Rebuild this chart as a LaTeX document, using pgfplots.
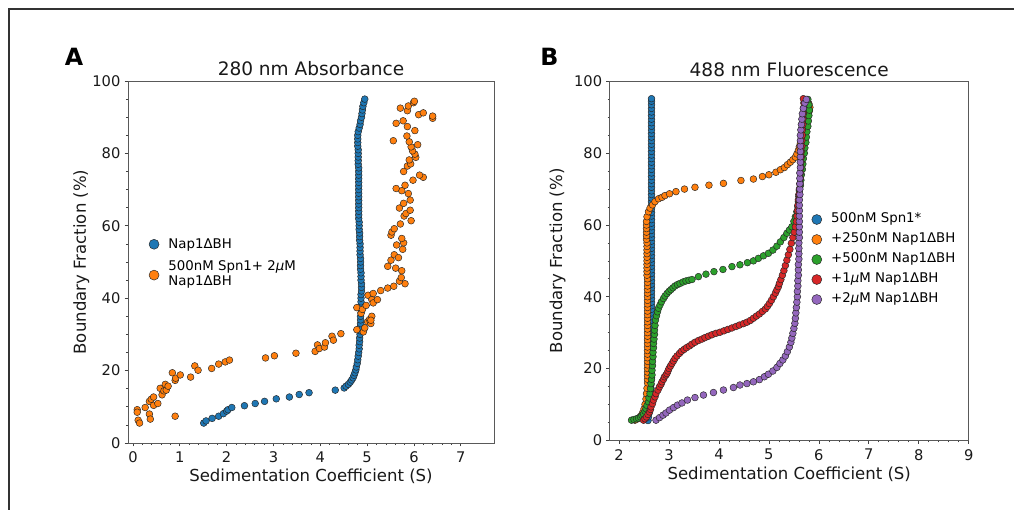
\documentclass[border=0pt]{standalone}
\usepackage{fontspec}
\setmainfont{DejaVu Sans}
\usepackage{pgfplots}
\pgfplotsset{compat=1.18}

\definecolor{tabblue}{HTML}{1F77B4}
\definecolor{taborange}{HTML}{FF7F0E}
\definecolor{tabgreen}{HTML}{2CA02C}
\definecolor{tabred}{HTML}{D62728}
\definecolor{tabpurple}{HTML}{9467BD}

% 1 px of the reference = 0.75pt
\pgfplotsset{
  sed/.style={
    scale only axis,
    axis line style={black!65, line width=0.6pt},
    tick align=outside, xtick pos=bottom, ytick pos=left,
    major tick length=2.6pt, minor tick length=1.6pt,
    every tick/.style={black!75, line width=0.5pt},
    minor x tick num=4, minor y tick num=3,
    ymin=0, ymax=100, ytick={0,20,...,100},
    /pgf/number format/assume math mode=true,
    tick label style={font=\fontsize{11}{13}\selectfont, text=black!90},
    xticklabel style={inner sep=0pt, anchor=north, yshift=-3.9pt},
    yticklabel style={inner sep=0pt, anchor=east, xshift=-2.9pt},
    label style={font=\fontsize{12.4}{15}\selectfont, text=black!90},
    every axis title/.style={font=\fontsize{13.9}{16}\selectfont, text=black!90,
      at={(0.5,1)}, anchor=base, yshift=3.75pt},
    xlabel={Sedimentation Coefficient (S)},
    ylabel={Boundary Fraction (\%)},
    legend cell align=left,
  },
  pt/.style={only marks, mark=*, mark size=2.55pt,
    mark options={draw=black!85, line width=0.35pt, fill=#1},
    legend image code/.code={\draw[##1,mark size=3.75pt] plot coordinates {(0pt,0pt)}; \path (10.6pt,0pt);}},
  lowimg/.style={legend image code/.code={\path (0pt,-8pt) (0pt,8pt);
    \draw[##1,mark size=3.75pt] plot coordinates {(0pt,-4pt)}; \path (10.6pt,0pt);}},
}

\begin{document}
\begin{tikzpicture}
\path[use as bounding box] (0,0) rectangle (760.5pt,382.5pt);
\draw[black!80, line width=1pt] (6.75pt,0pt) -- (6.75pt,375.75pt) -- (760.5pt,375.75pt);
\node[font=\bfseries\fontsize{17.8}{20}\selectfont] at (55.5pt,339.75pt) {A};
\node[font=\bfseries\fontsize{17.8}{20}\selectfont] at (412.1pt,340.1pt) {B};

% ---------------- A: 280 nm absorbance
\begin{axis}[sed, at={(96pt,50.25pt)}, anchor=south west,
  width=274.5pt, height=271.5pt,
  xmin=-0.107, xmax=7.71, xtick={0,...,7},
  title={280 nm Absorbance},
  xlabel style={at={(0.5,0)}, anchor=base, yshift=-29pt},
  ylabel style={at={(axis description cs:-0.1276,0.5)}, anchor=center},
  legend style={draw=none, fill=none, inner sep=0pt, row sep=6.25pt, column sep=0pt,
    font=\fontsize{10}{11.25}\selectfont, nodes={inner sep=0pt},
    at={(axis description cs:0.0568,0.567)}, anchor=north west}]
\addplot[pt=tabblue] coordinates {
(1.51,5.5)(1.56,6.1)(1.69,6.8)(1.83,7.4)(1.93,8.1)(2.00,8.8)(2.03,9.2)(2.11,9.8)
(2.38,10.3)(2.61,10.9)(2.81,11.5)(3.06,12.2)(3.34,12.7)(3.55,13.4)(3.76,13.9)
(4.32,14.6)(4.51,15.2)(4.55,15.7)(4.60,16.2)(4.64,16.8)(4.67,17.4)(4.70,18.0)
(4.72,18.7)(4.74,19.4)(4.76,20.2)(4.77,21.0)(4.79,22.0)(4.80,23.0)(4.81,24.0)
(4.82,25)(4.83,26)(4.83,27)(4.84,28)(4.84,29)(4.85,30)(4.85,31)(4.85,32)(4.86,33)
(4.86,34)(4.86,35)(4.87,36)(4.87,37)(4.87,38)(4.87,39)(4.87,40)(4.87,41)(4.88,42)
(4.88,43)(4.88,44)(4.87,45)(4.87,46)(4.87,47)(4.86,48)(4.86,49)(4.86,50)(4.86,51)
(4.85,52)(4.85,53)(4.85,54)(4.85,55)(4.84,56)(4.84,57)(4.84,58)(4.83,59)(4.83,60)
(4.83,61)(4.82,62)(4.82,63)(4.82,64)(4.82,65)(4.82,66)(4.82,67)(4.82,68)(4.82,69)
(4.82,70)(4.82,71)(4.82,72)(4.82,73)(4.82,74)(4.82,75)(4.82,76)(4.81,77)(4.81,78)
(4.81,79)(4.81,80)(4.81,81)(4.80,82)(4.80,83)(4.80,84)(4.80,85)(4.81,86)(4.83,87)
(4.85,88)(4.86,89)(4.88,90)(4.89,91)(4.90,92)(4.91,93)(4.93,94)(4.95,95)};
\addlegendentry{\strut Nap1ΔBH}
\addplot[pt=taborange, lowimg] coordinates {
(0.09,9.2)(0.09,8.5)(0.11,6.3)(0.14,5.5)(0.26,9.8)(0.35,8.0)(0.37,6.6)(0.35,11.5)
(0.39,12.1)(0.44,12.7)(0.44,10.4)(0.53,10.9)(0.58,15.1)(0.62,13.3)(0.66,14.4)
(0.69,16.2)(0.71,14.6)(0.75,15.7)(0.84,19.4)(0.90,17.3)(0.90,7.4)(0.91,17.9)
(1.01,18.8)(1.23,18.2)(1.32,21.3)(1.39,20.1)(1.68,20.6)(1.83,21.8)(1.97,22.4)
(2.06,22.9)(2.83,23.5)(3.02,24.1)(3.48,24.8)(3.89,25.3)(3.94,27.1)(3.98,26.1)
(4.09,26.5)(4.11,27.7)(4.25,29.5)(4.28,28.4)(4.44,30.2)(4.78,31.3)(4.78,37.4)
(4.87,35.8)(4.90,36.9)(4.92,30.7)(4.95,31.8)(4.98,38.0)(5.01,33.5)(5.05,34.1)
(5.08,33.0)(5.10,35.0)(5.08,33.9)(5.02,40.8)(5.10,39.6)(5.13,41.3)(5.13,38.7)
(5.22,39.6)(5.29,42.1)(5.44,42.8)(5.57,43.3)(5.81,44.0)(5.69,44.7)(5.73,45.7)
(5.74,47.6)(5.61,48.3)(5.44,48.8)(5.51,50.5)(5.58,52.0)(5.67,51.2)(5.63,54.7)
(5.76,53.5)(5.78,55.3)(5.74,56.5)(5.51,57.4)(5.53,58.3)(5.58,59.2)(5.71,60.5)
(5.94,61.4)(5.79,62.7)(5.83,63.4)(5.92,64.3)(5.69,64.9)(5.78,66.2)(5.92,67.1)
(5.88,68.9)(5.74,69.7)(5.62,70.3)(5.81,71.2)(5.98,72.6)(6.20,73.4)(6.12,74.0)
(5.78,75.0)(5.86,76.5)(5.93,77.1)(5.90,78.2)(6.04,78.9)(6.02,79.8)(5.97,80.7)
(5.94,81.8)(6.08,82.4)(5.90,83.2)(5.56,83.5)(5.85,84.8)(6.02,86.3)(5.86,87.4)
(5.62,88.3)(5.77,89.0)(6.40,89.7)(6.40,90.3)(6.10,90.7)(6.20,91.2)(5.86,91.8)
(5.71,92.5)(5.88,93.1)(5.99,94.0)(6.01,94.4)};
\addlegendentry{\begin{tabular}{@{}l@{}}500nM Spn1+ 2{\itshape μ}M\\Nap1ΔBH\end{tabular}}
\end{axis}

% ---------------- B: 488 nm fluorescence
\begin{axis}[sed, at={(457.3pt,52.3pt)}, anchor=south west,
  width=269.25pt, height=269.1pt,
  xmin=1.814, xmax=9, xtick={2,...,9},
  title={488 nm Fluorescence},
  xlabel style={at={(0.5,0)}, anchor=base, yshift=-29.8pt},
  ylabel style={at={(axis description cs:-0.1454,0.5)}, anchor=center},
  legend style={draw=none, fill=none, inner sep=0pt, row sep=3.75pt, column sep=0pt,
    font=\fontsize{10}{11.25}\selectfont,
    nodes={inner sep=0pt, text height=7.875pt, text depth=3.375pt},
    at={(axis description cs:0.5621,0.6369)}, anchor=north west}]
\addplot[pt=tabblue] coordinates {
(2.58,5.5)(2.59,6.5)(2.60,7.5)(2.61,8.5)(2.61,9.5)(2.62,10.5)(2.62,11.5)(2.63,12.5)
(2.63,13.5)(2.64,14.5)(2.64,15.5)(2.64,16.5)(2.65,17.5)(2.65,18.5)(2.65,19.5)
(2.65,20.5)(2.65,21.5)(2.65,22.5)(2.65,23.5)(2.65,24.5)(2.65,25.5)(2.65,26.5)
(2.65,27.5)(2.65,28.5)(2.65,29.5)(2.65,30.5)(2.65,31.5)(2.65,32.5)(2.65,33.5)
(2.65,34.5)(2.65,35.5)(2.65,36.5)(2.65,37.5)(2.65,38.5)(2.65,39.5)(2.65,40.5)
(2.65,41.5)(2.65,42.5)(2.65,43.5)(2.65,44.5)(2.65,45.5)(2.65,46.5)(2.65,47.5)
(2.65,48.5)(2.65,49.5)(2.65,50.5)(2.65,51.5)(2.65,52.5)(2.65,53.5)(2.65,54.5)
(2.65,55.5)(2.65,56.5)(2.65,57.5)(2.65,58.5)(2.65,59.5)(2.65,60.5)(2.65,61.5)
(2.65,62.5)(2.65,63.5)(2.65,64.5)(2.65,65.5)(2.65,66.5)(2.65,67.5)(2.65,68.5)
(2.65,69.5)(2.65,70.5)(2.65,71.5)(2.65,72.5)(2.65,73.5)(2.65,74.5)(2.65,75.5)
(2.65,76.5)(2.65,77.5)(2.65,78.5)(2.65,79.5)(2.65,80.5)(2.65,81.5)(2.65,82.5)
(2.65,83.5)(2.65,84.5)(2.65,85.5)(2.65,86.5)(2.65,87.5)(2.65,88.5)(2.65,89.5)
(2.65,90.5)(2.65,91.5)(2.65,92.5)(2.65,93.5)(2.65,94.5)(2.65,95.2)};
\addlegendentry{500nM Spn1*}
\addplot[pt=taborange] coordinates {
(2.32,5.6)(2.38,6.0)(2.43,6.7)(2.47,7.6)(2.50,8.7)(2.52,10)(2.54,11.5)(2.55,13)
(2.56,14.5)(2.57,16)(2.57,17)(2.57,18)(2.57,19)(2.57,20)(2.57,21)(2.57,22)(2.57,23)
(2.57,24)(2.57,25)(2.57,26)(2.57,27)(2.57,28)(2.57,29)(2.57,30)(2.57,31)(2.57,32)
(2.57,33)(2.57,34)(2.57,35)(2.57,36)(2.57,37)(2.57,38)(2.57,39)(2.57,40)(2.57,41)
(2.57,42)(2.57,43)(2.57,44)(2.57,45)(2.56,46)(2.56,47)(2.56,48)(2.56,49)(2.56,50)
(2.56,51)(2.56,52)(2.56,53)(2.56,54)(2.56,55)(2.55,56)(2.55,57)(2.55,58)(2.55,59)
(2.55,60)(2.55,61)(2.56,62.3)(2.59,63.7)(2.62,64.7)(2.67,65.6)(2.72,66.5)(2.79,67.3)
(2.86,67.7)(2.92,68.2)(3.01,68.7)(3.14,69.3)(3.31,70.0)(3.52,70.5)(3.80,71.1)
(4.09,71.6)(4.44,72.4)(4.69,72.8)(4.87,73.5)(5.00,74.0)(5.14,74.7)(5.23,75.4)
(5.31,76.0)(5.37,76.8)(5.43,77.5)(5.48,78.2)(5.53,78.9)(5.56,79.8)(5.59,80.8)
(5.61,81.8)(5.63,82.8)(5.65,83.8)(5.67,84.8)(5.69,85.8)(5.71,86.8)(5.73,87.8)
(5.75,88.8)(5.77,89.8)(5.79,90.8)(5.81,91.8)(5.82,92.8)(5.80,93.8)(5.77,94.8)};
\addlegendentry{+250nM Nap1ΔBH}
\addplot[pt=tabgreen] coordinates {
(2.25,5.6)(2.30,5.8)(2.35,6.0)(2.39,6.2)(2.43,6.5)(2.46,6.9)(2.49,7.4)(2.52,8.1)
(2.54,8.8)(2.56,9.7)(2.59,10.7)(2.60,11.8)(2.62,13.0)(2.63,14.4)(2.64,15.8)
(2.65,17.0)(2.66,18.2)(2.66,19.5)(2.67,20.8)(2.67,22.0)(2.68,23.3)(2.68,24.5)
(2.69,25.8)(2.69,27.0)(2.70,28.2)(2.71,29.5)(2.71,30.7)(2.72,32.0)(2.73,33.5)
(2.75,34.7)(2.77,35.8)(2.79,36.8)(2.82,37.7)(2.85,38.6)(2.89,39.5)(2.92,40.2)
(2.96,40.9)(3.00,41.5)(3.04,42.0)(3.08,42.5)(3.12,43.0)(3.17,43.4)(3.22,43.7)
(3.28,44.1)(3.34,44.4)(3.40,44.6)(3.46,44.8)(3.59,45.6)(3.74,46.3)(3.90,47.0)
(4.08,47.6)(4.26,48.4)(4.42,48.9)(4.57,49.5)(4.69,50.0)(4.79,50.7)(4.89,51.4)
(4.99,52.1)(5.08,53.0)(5.16,54.1)(5.23,55.3)(5.30,56.5)(5.36,57.7)(5.41,58.6)
(5.46,59.5)(5.50,61.0)(5.53,62.3)(5.56,63.7)(5.58,65.1)(5.59,66.5)(5.60,68)
(5.61,69.5)(5.63,71)(5.64,72.5)(5.65,74)(5.67,75.5)(5.68,77)(5.69,78.5)(5.71,80)
(5.72,81.5)(5.74,83)(5.75,84.5)(5.76,86)(5.78,87.5)(5.79,89)(5.80,90.5)(5.81,92)
(5.80,93.5)(5.78,95)};
\addlegendentry{+500nM Nap1ΔBH}
\addplot[pt=tabred] coordinates {
(2.49,5.6)(2.52,6.0)(2.55,6.5)(2.58,7.2)(2.61,7.9)(2.63,8.6)(2.64,9.3)(2.67,10.2)
(2.69,11.2)(2.72,12.1)(2.74,13.0)(2.78,14.0)(2.81,14.9)(2.84,15.6)(2.86,16.3)
(2.89,17.0)(2.91,17.7)(2.94,18.2)(2.96,18.6)(2.98,19.3)(3.00,20.0)(3.03,20.7)
(3.06,21.4)(3.09,22.1)(3.12,22.8)(3.16,23.5)(3.21,24.2)(3.25,24.8)(3.30,25.3)
(3.35,25.8)(3.41,26.3)(3.46,26.8)(3.52,27.3)(3.59,27.8)(3.66,28.2)(3.72,28.6)
(3.79,29.0)(3.86,29.4)(3.94,29.8)(4.02,30.1)(4.10,30.5)(4.18,30.9)(4.26,31.3)
(4.34,31.7)(4.41,32.1)(4.49,32.5)(4.56,32.9)(4.63,33.4)(4.69,34.0)(4.75,34.6)
(4.81,35.2)(4.87,35.9)(4.93,36.6)(4.97,37.3)(5.01,38.1)(5.05,39.0)(5.09,40.0)
(5.13,41.0)(5.16,41.9)(5.19,42.8)(5.21,43.7)(5.24,44.8)(5.27,46)(5.30,47.3)
(5.33,48.7)(5.36,50.2)(5.39,51.7)(5.42,53.2)(5.45,54.9)(5.48,56.5)(5.51,58)
(5.53,59.5)(5.55,61)(5.56,62.5)(5.57,64)(5.58,65.5)(5.59,67)(5.60,68.5)(5.61,70)
(5.62,71.5)(5.63,73)(5.63,74.5)(5.64,76)(5.64,77.5)(5.65,79)(5.65,80.5)(5.66,82)
(5.66,83.5)(5.67,85)(5.67,86.5)(5.68,88)(5.68,89.5)(5.69,91)(5.69,92.5)(5.70,94)
(5.69,95.2)};
\addlegendentry{+1{\itshape μ}M Nap1ΔBH}
\addplot[pt=tabpurple] coordinates {
(2.74,5.6)(2.81,6.3)(2.88,7.0)(2.94,7.6)(3.01,8.4)(3.09,9.1)(3.17,9.8)(3.26,10.4)
(3.37,11.2)(3.52,11.9)(3.69,12.6)(3.89,13.3)(4.09,14.0)(4.29,14.7)(4.42,15.4)
(4.56,15.8)(4.69,16.3)(4.81,16.9)(4.91,17.7)(4.99,18.4)(5.08,19.3)(5.16,20.3)
(5.22,21.4)(5.28,22.4)(5.33,23.5)(5.37,24.7)(5.41,26.0)(5.44,27.3)(5.46,28.5)
(5.48,29.8)(5.50,31.2)(5.52,32.6)(5.53,34)(5.54,35.5)(5.55,37)(5.56,38.5)(5.57,40)
(5.57,41.5)(5.58,43)(5.58,44.5)(5.59,46)(5.59,47.5)(5.59,49)(5.60,50.5)(5.60,52)
(5.60,53.5)(5.60,55)(5.61,56.5)(5.61,58)(5.61,59.5)(5.61,61)(5.61,62.5)(5.61,64)
(5.61,65.5)(5.61,67)(5.62,68.5)(5.62,70)(5.62,71.5)(5.62,73)(5.62,74.5)(5.63,76)
(5.63,77.5)(5.63,79)(5.63,80.5)(5.63,82)(5.63,83.5)(5.63,85)(5.64,86.5)(5.65,88)
(5.66,89.5)(5.67,91)(5.69,92.5)(5.72,94)(5.75,95)};
\addlegendentry{+2{\itshape μ}M Nap1ΔBH}
\end{axis}
\end{tikzpicture}
\end{document}
